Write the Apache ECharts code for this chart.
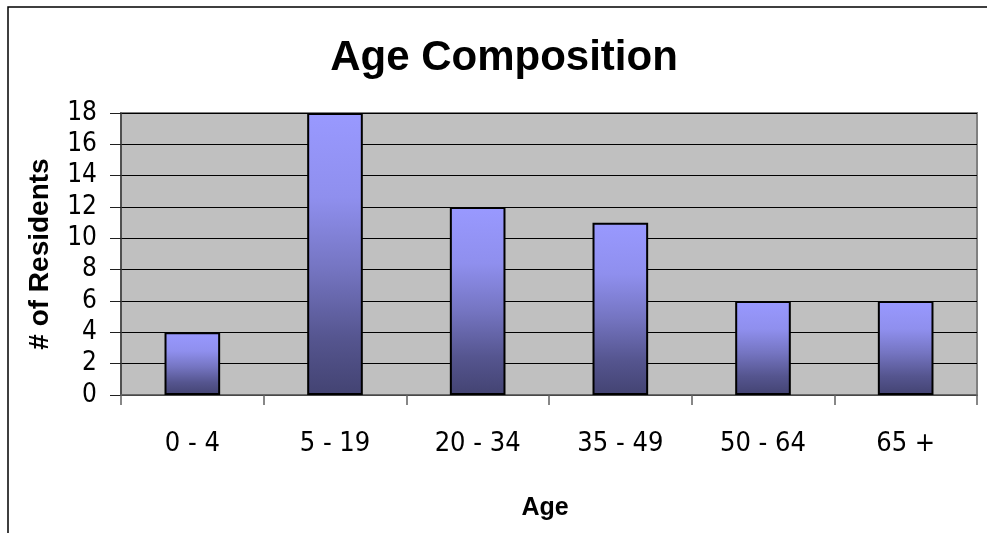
<!DOCTYPE html>
<html>
<head>
<meta charset="utf-8">
<script src="https://cdn.jsdelivr.net/npm/echarts@6/dist/echarts.min.js"></script>
<style>
html,body{margin:0;padding:0;background:#fff;}
#chart{width:987px;height:533px;}
</style>
</head>
<body>
<div id="chart"></div>
<script>
var titleText = 'Age Composition';
var categories = ['0 - 4', '5 - 19', '20 - 34', '35 - 49', '50 - 64', '65 +'];
var residents = [4, 18, 12, 11, 6, 6];
var yAxisName = '# of Residents';
var xAxisName = 'Age';

var narrow = '"Liberation Sans Narrow", "Arial Narrow", "DejaVu Sans Condensed", sans-serif';
var sans = '"Liberation Sans", Arial, sans-serif';

var chart = echarts.init(document.getElementById('chart'), null, {renderer: 'canvas'});
chart.setOption({
  backgroundColor: '#ffffff',
  animation: false,
  title: {
    text: titleText,
    left: 499,
    top: 32,
    textAlign: 'center',
    textStyle: {fontFamily: sans, fontWeight: 'bold', fontSize: 42, color: '#000'}
  },
  graphic: [{
    type: 'rect',
    shape: {x: 8, y: 7, width: 1200, height: 800},
    style: {fill: 'none', stroke: '#000', lineWidth: 1.5},
    silent: true
  }],
  grid: {
    left: 121, right: 10, top: 113, bottom: 138,
    outerBoundsMode: 'none',
    containLabel: false,
    show: true,
    backgroundColor: '#C0C0C0',
    borderColor: '#808080',
    borderWidth: 2
  },
  xAxis: {
    type: 'category',
    data: categories,
    name: xAxisName,
    nameLocation: 'middle',
    nameGap: 101,
    nameTextStyle: {fontFamily: sans, fontWeight: 'bold', fontSize: 25, color: '#000', padding: [0, 8, 0, 0]},
    axisLine: {lineStyle: {color: '#606060', width: 1.5}},
    axisTick: {show: true, length: 10, alignWithLabel: false, lineStyle: {color: '#606060', width: 1.5}},
    axisLabel: {fontFamily: narrow, fontSize: 27, color: '#000', margin: 35},
    splitLine: {show: false}
  },
  yAxis: {
    type: 'value',
    min: 0, max: 18, interval: 2,
    name: yAxisName,
    nameLocation: 'middle',
    nameGap: 67,
    nameRotate: 90,
    nameTextStyle: {fontFamily: sans, fontWeight: 'bold', fontSize: 28, color: '#000'},
    axisLine: {show: true, lineStyle: {color: '#404040', width: 1.5}},
    axisTick: {show: true, length: 11, lineStyle: {color: '#202020', width: 1}},
    axisLabel: {fontFamily: narrow, fontSize: 26, color: '#000', margin: 24},
    splitLine: {show: true, lineStyle: {color: '#000', width: 1}}
  },
  series: [{
    type: 'bar',
    data: residents,
    barWidth: '39%',
    itemStyle: {
      borderColor: '#000',
      borderWidth: 2,
      color: new echarts.graphic.LinearGradient(0, 0, 0, 1, [
        {offset: 0, color: '#9999FF'},
        {offset: 0.3, color: '#8F8FEE'},
        {offset: 0.55, color: '#7575C2'},
        {offset: 0.8, color: '#55558F'},
        {offset: 1, color: '#434372'}
      ])
    }
  }]
});
</script>
</body>
</html>
